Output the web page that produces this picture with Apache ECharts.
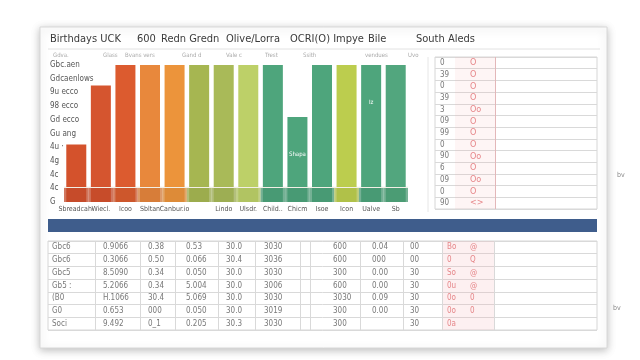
<!DOCTYPE html>
<html><head><meta charset="utf-8">
<script src="https://cdn.jsdelivr.net/npm/echarts@6/dist/echarts.min.js"></script>
<style>html,body{margin:0;padding:0;background:#fff}#c{width:640px;height:360px}</style>
</head><body><div id="c"></div>
<script>
// ---- data ----
const categories = ['Sbreadcah-', 'Wiecl.', 'Icoo', 'Sbltan', 'Canbur.io', '', 'Lindo', 'Ulsdr.', 'Child..', 'Chicm', 'Isoe', 'Icon', 'Ualve', 'Sb'];
const barValues = [42, 85, 100, 100, 100, 100, 100, 100, 100, 62, 100, 100, 100, 100];
const baseValues = [11, 11, 11, 11, 11, 11, 11, 11, 11, 11, 11, 11, 11, 11];
const barNotes = ['', '', '', '', '', '', '', '', '', 'Shapa', '', '', 'Iz', ''];
const yTickLabels = ['G', '4c', '4c', '4g', '4u ·', 'Gu ang', 'Gd ecco', '98 ecco', '9u ecco', 'Gdcaenlows', 'Gbc.aen'];
const headerLabels = ['Birthdays UCK', '600', 'Redn Gredn', 'Olive/Lorra', 'OCRI(O) Impye', 'Bile', 'South Aleds'];
const subHeaderLabels = ['Gdva.', 'Glass', 'Bvans vers', 'Gand d', 'Vale c', 'Trest', 'Ssith', 'vendues', 'Uvo'];
const sideNumbers = ['0', '39', '0', '39', '3', '09', '99', '0', '90', '6', '09', '0', '90'];
const sideMarks = ['O', 'O', 'O', 'O', 'Oo', 'O', 'O', 'O', 'Oo', 'O', 'Oo', 'O', '<>'];
const tableRowNames = ['r1', 'r2', 'r3', 'r4', 'r5', 'r6', 'r7'];
const colA = ['Gbc6', 'Gbc6', 'Gbc5', 'Gb5 :', '(B0', 'G0', 'Soci'];
const colB = ['0.9066', '0.3066', '8.5090', '5.2066', 'H.1066', '0.653', '9.492'];
const colC = ['0.38', '0.50', '0.34', '0.34', '30.4', '000', '0_1'];
const colD = ['0.53', '0.066', '0.050', '5.004', '5.069', '0.050', '0.205'];
const colE = ['30.0', '30.4', '30.0', '30.0', '30.0', '30.0', '30.3'];
const colF = ['3030', '3036', '3030', '3006', '3030', '3019', '3030'];
const colH = ['600', '600', '300', '600', '3030', '300', '300'];
const colI = ['0.04', '000', '0.00', '0.00', '0.09', '0.00', ''];
const colJ = ['00', '00', '30', '30', '30', '30', '30'];
const colK = ['Bo', '0', 'So', '0u', '0o', '0o', '0a'];
const colL = ['@', 'Q', '@', '@', '0', '0', ''];

// ---- styles / layout ----
const barColors = ['#d4522c', '#d5552f', '#dc5b2f', '#e8883c', '#ec943b', '#a6b651', '#a9ba58', '#bdd068', '#4ea57c', '#4ea57c', '#4ea57c', '#bccd4e', '#4ea57c', '#52a67e'];
const bandColors = ['#c24a2a', '#c24a2a', '#c8552c', '#d27a38', '#d88838', '#98a84c', '#9aaa52', '#aec060', '#479772', '#479772', '#479772', '#acbc48', '#479772', '#4a9872'];
const headerX = [50, 137, 161, 226, 290, 368, 416];
const subHeaderX = [53, 103, 125, 182, 226, 265, 303, 365, 408];
const tableCols = [colA, colB, colC, colD, colE, colF, colH, colI, colJ, colK, colL];
const tableTextX = [4, 55, 100, 138, 178, 216, 285, 324, 362, 399, 422];
const tableLines = [47, 92, 127, 170, 207, 252, 262, 312, 355, 394, 446];
const pinkCols = new Set([9, 10]);
const font = 'DejaVu Sans Condensed, Liberation Sans Narrow, sans-serif';

const titles = [];
headerLabels.forEach((t, i) => titles.push({ text: t, left: headerX[i], top: 34, padding: 0, textStyle: { fontSize: 11, fontWeight: 'normal', color: '#3a3a3a', fontFamily: font } }));
subHeaderLabels.forEach((t, i) => titles.push({ text: t, left: subHeaderX[i], top: 52, padding: 0, textStyle: { fontSize: 6, fontWeight: 'normal', color: '#aaa' } }));
titles.push({ text: 'bv', left: 617, top: 172, padding: 0, textStyle: { fontSize: 7, fontWeight: 'normal', color: '#888' } });
titles.push({ text: 'bv', left: 613, top: 305, padding: 0, textStyle: { fontSize: 7, fontWeight: 'normal', color: '#888' } });

const tableData = [];
const tablePink = [];
tableCols.forEach((col, c) => col.forEach((t, r) => {
  (pinkCols.has(c) ? tablePink : tableData).push({ value: [tableTextX[c], tableRowNames[r]], t });
}));

const sideData = sideNumbers.map((t, r) => ({ value: [5, r], t }));
const sideMarkData = sideMarks.map((t, r) => ({ value: [35, r], t }));

const chart = echarts.init(document.getElementById('c'), null, { renderer: 'canvas' });
chart.setOption({
  animation: false,
  backgroundColor: '#fff',
  textStyle: { fontFamily: font },
  title: titles,
  graphic: [
    { type: 'rect', z: -10, shape: { x: 40, y: 27, width: 567, height: 321 }, style: { fill: '#fff', stroke: '#d8d8d8', lineWidth: 1, shadowBlur: 8, shadowColor: 'rgba(0,0,0,0.25)', shadowOffsetY: 2 } },
    { type: 'line', z: -5, shape: { x1: 48, y1: 49, x2: 600, y2: 49 }, style: { stroke: '#e2e2e2', lineWidth: 1 } },
    { type: 'line', z: -5, shape: { x1: 428, y1: 57, x2: 428, y2: 212 }, style: { stroke: '#e6e6e6', lineWidth: 1 } },
    { type: 'rect', z: 5, shape: { x: 48, y: 219, width: 549, height: 13 }, style: { fill: '#3f5d8c' } }
  ],
  grid: [
    { left: 64, top: 65, width: 344, height: 137 },
    { left: 435, top: 57, width: 162, height: 152, show: true, borderColor: '#d6d6d6', borderWidth: 1, backgroundColor: 'transparent' },
    { left: 48, top: 241, width: 549, height: 89, show: true, borderColor: '#d6d6d6', borderWidth: 1, backgroundColor: 'transparent' }
  ],
  xAxis: [
    { type: 'category', gridIndex: 0, data: categories, axisLine: { show: false }, axisTick: { show: false },
      axisLabel: { interval: 0, margin: 4, fontSize: 7, color: '#555' } },
    { type: 'category', gridIndex: 0, data: categories, show: false },
    { type: 'value', gridIndex: 1, min: 0, max: 162, show: false },
    { type: 'value', gridIndex: 2, min: 0, max: 549, show: false }
  ],
  yAxis: [
    { type: 'value', gridIndex: 0, min: 0, max: 100, interval: 10, splitLine: { show: false }, axisLine: { show: false }, axisTick: { show: false },
      axisLabel: { align: 'left', margin: 14, fontSize: 8, color: '#555', formatter: (v) => yTickLabels[Math.round(v / 10)] } },
    { type: 'category', gridIndex: 1, data: sideNumbers.map((_, i) => i), inverse: true, axisLine: { show: false }, axisTick: { show: false }, axisLabel: { show: false },
      splitLine: { show: true, interval: 0, lineStyle: { color: '#d9d9d9' } } },
    { type: 'category', gridIndex: 2, data: tableRowNames, inverse: true, axisLine: { show: false }, axisTick: { show: false }, axisLabel: { show: false },
      splitLine: { show: true, interval: 0, lineStyle: { color: '#d9d9d9' } } }
  ],
  series: [
    { type: 'bar', xAxisIndex: 0, yAxisIndex: 0, barWidth: 20, z: 2,
      data: barValues.map((v, i) => ({ value: v, itemStyle: { color: barColors[i] },
        label: barNotes[i] ? { show: true, position: 'insideTop', distance: 34, formatter: barNotes[i], color: '#fff', fontSize: 6 } : { show: false } })) },
    { type: 'bar', xAxisIndex: 1, yAxisIndex: 0, barCategoryGap: '0%', z: 3,
      data: baseValues.map((v, i) => ({ value: v, itemStyle: { color: bandColors[i], opacity: 0.75 } })),
      markLine: { silent: true, symbol: 'none', label: { show: false }, lineStyle: { color: '#f2efe6', type: 'solid', width: 1 }, data: [{ yAxis: 11 }] } },
    { type: 'scatter', xAxisIndex: 2, yAxisIndex: 1, symbolSize: 0, z: 5,
      data: sideData, label: { show: true, position: 'right', distance: 0, fontSize: 8, color: '#555', formatter: (p) => p.data.t },
      markArea: { silent: true, itemStyle: { color: 'rgba(244,170,175,0.12)' }, data: [[{ xAxis: 20 }, { xAxis: 60 }]] },
      markLine: { silent: true, symbol: 'none', label: { show: false }, lineStyle: { color: '#e3b7b9', type: 'solid', width: 1 }, data: [{ xAxis: 60 }] } },
    { type: 'scatter', xAxisIndex: 2, yAxisIndex: 1, symbolSize: 0, z: 5,
      data: sideMarkData, label: { show: true, position: 'right', distance: 0, fontSize: 9, color: '#e06a6e', formatter: (p) => p.data.t } },
    { type: 'scatter', xAxisIndex: 3, yAxisIndex: 2, symbolSize: 0, z: 5,
      data: tableData, label: { show: true, position: 'right', distance: 0, fontSize: 8, color: '#555', formatter: (p) => p.data.t },
      markArea: { silent: true, itemStyle: { color: 'rgba(244,170,175,0.18)' }, data: [[{ xAxis: 394 }, { xAxis: 446 }]] },
      markLine: { silent: true, symbol: 'none', label: { show: false }, lineStyle: { color: '#d9d9d9', type: 'solid', width: 1 }, data: tableLines.map(x => ({ xAxis: x })) } },
    { type: 'scatter', xAxisIndex: 3, yAxisIndex: 2, symbolSize: 0, z: 5,
      data: tablePink, label: { show: true, position: 'right', distance: 0, fontSize: 8, color: '#e06a6e', formatter: (p) => p.data.t } }
  ]
});
</script></body></html>
